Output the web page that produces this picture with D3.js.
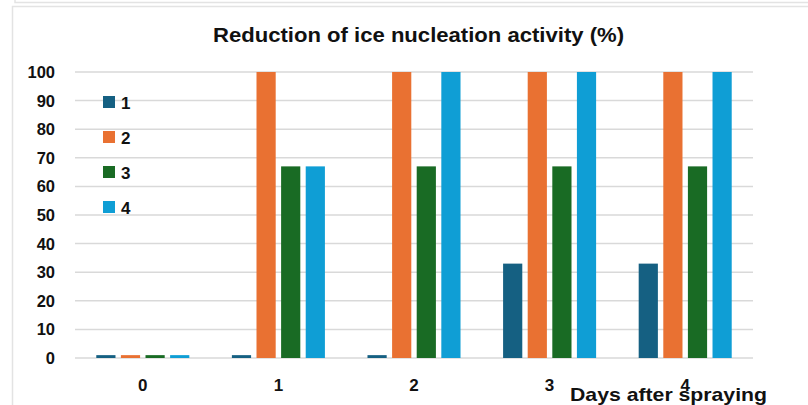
<!DOCTYPE html>
<html>
<head>
<meta charset="utf-8">
<script src="https://cdn.jsdelivr.net/npm/d3@7"></script>
<style>
  body { margin: 0; background: #fff; }
  svg { display: block; }
</style>
</head>
<body>
<div id="chart"></div>
<script>
const days = ['0', '1', '2', '3', '4']
const seriesNames = ['1', '2', '3', '4']
const series1 = [1, 1, 1, 33, 33]
const series2 = [1, 100, 100, 100, 100]
const series3 = [1, 67, 67, 67, 67]
const series4 = [1, 67, 100, 100, 100]
const yTicks = [0, 10, 20, 30, 40, 50, 60, 70, 80, 90, 100]
const colors = ['#156082', '#E97132', '#196B24', '#0F9ED5']

const allSeries = [series1, series2, series3, series4]
const W = 808, H = 405
const plotLeft = 75, plotRight = 753, plotTop = 72, plotBottom = 358
const font = 'Liberation Sans, Arial, sans-serif'

const svg = d3.select('#chart').append('svg')
  .attr('width', W).attr('height', H)

// frames from the screenshot
svg.append('path')
  .attr('d', 'M15,0 V2.5 H808')
  .attr('fill', 'none').attr('stroke', '#e3e3e3').attr('stroke-width', 1.5)
svg.append('path')
  .attr('d', 'M12.5,' + H + ' V6.5 H808')
  .attr('fill', 'none').attr('stroke', '#e3e3e3').attr('stroke-width', 1.5)

const x0 = d3.scaleBand().domain(days).range([plotLeft, plotRight])
  .paddingInner(0.314).paddingOuter(0.157)
const x1 = d3.scaleBand().domain(seriesNames).range([0, x0.bandwidth()])
  .paddingInner(0.22)
const y = d3.scaleLinear().domain([0, 100]).range([plotBottom, plotTop])

// gridlines
svg.append('g').selectAll('line').data(yTicks).join('line')
  .attr('x1', plotLeft).attr('x2', plotRight)
  .attr('y1', d => y(d)).attr('y2', d => y(d))
  .attr('stroke', '#d9d9d9').attr('stroke-width', 1.5)

// y labels
svg.append('g').selectAll('text').data(yTicks).join('text')
  .attr('x', 55).attr('y', d => y(d) + 6)
  .attr('text-anchor', 'end')
  .attr('font-family', font)
  .attr('font-weight', 'bold').attr('font-size', 16.5)
  .attr('fill', '#111')
  .text(d => d)

// bars
const groups = svg.append('g').selectAll('g').data(days).join('g')
  .attr('transform', d => `translate(${x0(d)},0)`)
groups.selectAll('rect')
  .data((d, i) => seriesNames.map((s, j) => ({ s, j, v: allSeries[j][i] })))
  .join('rect')
  .attr('x', d => x1(d.s))
  .attr('width', x1.bandwidth())
  .attr('y', d => y(d.v))
  .attr('height', d => y(0) - y(d.v))
  .attr('fill', d => colors[d.j])

// x labels
svg.append('g').selectAll('text').data(days).join('text')
  .attr('x', d => x0(d) + x0.bandwidth() / 2)
  .attr('y', 391)
  .attr('text-anchor', 'middle')
  .attr('font-family', font)
  .attr('font-weight', 'bold').attr('font-size', 17)
  .attr('fill', '#111')
  .text(d => d)

// legend
const legend = svg.append('g').selectAll('g').data(seriesNames).join('g')
  .attr('transform', (d, i) => `translate(103,${102 + i * 35})`)
legend.append('rect')
  .attr('x', 0).attr('y', -6).attr('width', 12).attr('height', 12)
  .attr('fill', (d, i) => colors[i])
legend.append('text')
  .attr('x', 18).attr('y', 6.5)
  .attr('font-family', font)
  .attr('font-weight', 'bold').attr('font-size', 17)
  .attr('fill', '#111')
  .text(d => d)

// title
svg.append('text')
  .attr('x', 213).attr('y', 42)
  .attr('font-family', 'Liberation Sans Narrow, ' + font)
  .attr('font-weight', 'bold').attr('font-size', 21)
  .attr('fill', '#111')
  .attr('textLength', 411).attr('lengthAdjust', 'spacingAndGlyphs')
  .text('Reduction of ice nucleation activity (%)')

// axis title (overlaps the "4" label, as in the original)
svg.append('text')
  .attr('x', 570).attr('y', 401)
  .attr('font-family', font)
  .attr('font-weight', 'bold').attr('font-size', 19)
  .attr('fill', '#111')
  .attr('textLength', 197).attr('lengthAdjust', 'spacingAndGlyphs')
  .text('Days after spraying')
</script>
</body>
</html>
